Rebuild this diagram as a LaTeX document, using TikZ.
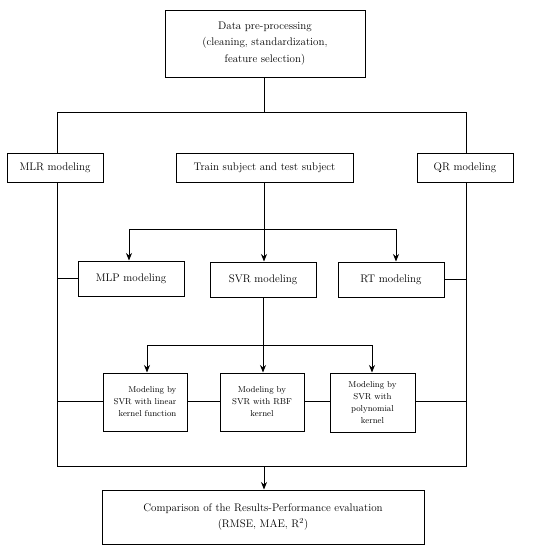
\documentclass[tikz,border=0pt]{standalone}
\usetikzlibrary{arrows.meta,calc}
\begin{document}
\begin{tikzpicture}[x=1pt,y=1pt,
  box/.style={draw,line width=1pt,inner sep=1pt,align=center,font=\fontsize{11}{16.5}\selectfont},
  sbox/.style={draw,line width=1pt,inner sep=1pt,align=center,font=\fontsize{8.6}{12}\selectfont,minimum width=84,minimum height=58},
  ln/.style={line width=1pt},
  arr/.style={line width=1pt,-{Stealth[length=7.5pt,width=6pt]}}]
\useasboundingbox (0,0) rectangle (546,-550);
\node[box,minimum width=200,minimum height=67] (top) at (265,-43.5) {Data pre-processing\\(cleaning, standardization,\\feature selection)};
\node[box,minimum width=96,minimum height=29] (mlr) at (55,-167.5) {MLR modeling};
\node[box,minimum width=177,minimum height=29] (train) at (264.5,-167.5) {Train subject and test subject};
\node[box,minimum width=96,minimum height=29] (qr) at (465,-167.5) {QR modeling};
\node[box,minimum width=106,minimum height=35] (mlp) at (131,-278.5) {MLP modeling};
\node[box,minimum width=106,minimum height=35] (svr) at (263,-279.5) {SVR modeling};
\node[box,minimum width=106,minimum height=35] (rt) at (391,-279.5) {RT modeling};
\node[sbox] (k1) at (145,-402) {\begin{tabular}{@{}r@{}}Modeling by\\SVR with linear\\kernel function\end{tabular}};
\node[sbox] (k2) at (262,-402) {Modeling by\\SVR with RBF\\kernel};
\node[sbox,minimum width=85,minimum height=59] (k3) at (372.5,-402.5) {Modeling by\\SVR with\\polynomial\\kernel};
\node[box,minimum width=322,minimum height=54] (fin) at (263,-517) {Comparison of the Results-Performance evaluation\\(RMSE, MAE, R\textsuperscript{2})};
% coordinates
\coordinate (hT) at (264,-112);
\coordinate (hL) at (57,-112);
\coordinate (hR) at (466,-112);
\coordinate (bL) at (57,-466);
\coordinate (bR) at (466,-466);
\coordinate (bC) at (264,-466);
\coordinate (m1) at (129,-229);
\coordinate (m3) at (396,-229);
\coordinate (m2) at (264,-229);
\coordinate (s1) at (147,-345);
\coordinate (s3) at (372,-345);
% top distribution
\draw[ln] (top.south -| hT) -- (hT);
\draw[ln] (hL |- mlr.north) -- (hL) -- (hR) -- (hR |- qr.north);
\draw[ln] (hL |- mlr.south) -- (bL) -- (bR) -- (hR |- qr.south);
% train to second row
\draw[arr] (train.south -| m2) -- (m2 |- svr.north);
\draw[ln] (m1) -- (m3);
\draw[arr] (m1) -- (m1 |- mlp.north);
\draw[arr] (m3) -- (m3 |- rt.north);
% svr to kernels
\draw[arr] (svr.south) -- (svr.south |- k2.north);
\draw[ln] (s1) -- (s3);
\draw[arr] (s1) -- (s1 |- k1.north);
\draw[arr] (s3) -- (s3 |- k3.north);
% side connections
\draw[ln] (mlp.west) -- (mlp.west -| bL);
\draw[ln] (rt.east) -- (rt.east -| bR);
\draw[ln] (k1.west |- 0,-401) -- (57,-401);
\draw[ln] (k1.east |- 0,-401) -- (k2.west |- 0,-401);
\draw[ln] (k2.east |- 0,-401) -- (k3.west |- 0,-401);
\draw[ln] (k3.east |- 0,-401) -- (466,-401);
% final
\draw[arr] (bC) -- (fin.north -| bC);
\end{tikzpicture}
\end{document}
